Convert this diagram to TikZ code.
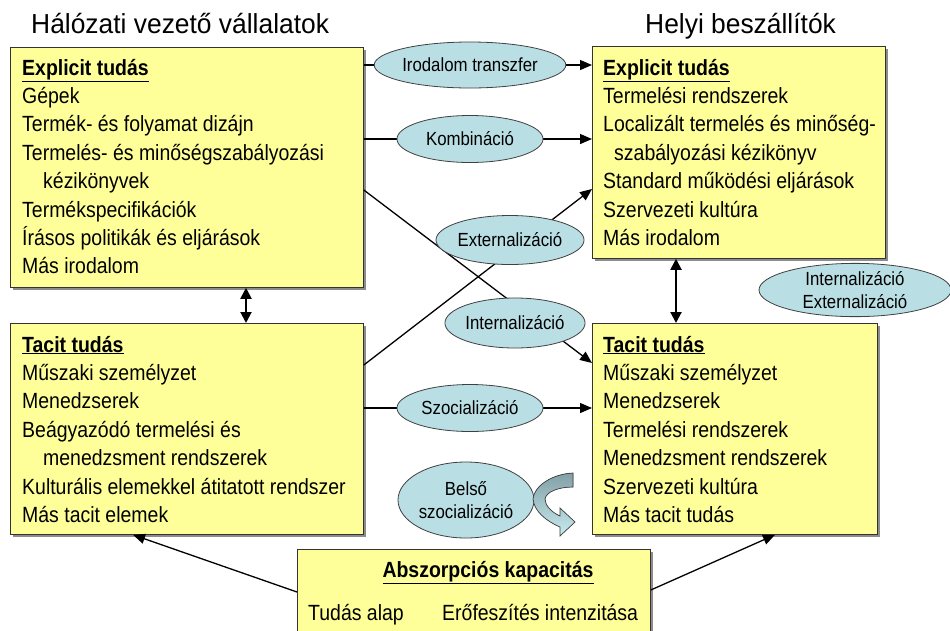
\documentclass[tikz,border=0pt]{standalone}
\usepackage{fontspec}
\setmainfont{Liberation Sans}[FakeStretch=0.885]
\newfontfamily\titlefont{Liberation Sans}[FakeStretch=0.96]
\usetikzlibrary{arrows.meta,shapes.geometric,shadows}
\definecolor{boxyellow}{RGB}{255,255,153}
\definecolor{ellblue}{RGB}{185,222,228}
\definecolor{arrtop}{RGB}{130,160,165}
\definecolor{arrbot}{RGB}{200,235,240}
\newcommand{\boxtext}[1]{\parbox[t]{340pt}{\raggedright\fontsize{22}{28.4}\selectfont #1}}
\newcommand{\hd}[1]{\underline{\textbf{#1}}}
\begin{document}
\begin{tikzpicture}[x=1pt,y=-1pt,
  kbox/.style={draw=black!80, line width=0.8pt, fill=boxyellow, inner sep=0pt, anchor=north west,
    drop shadow={shadow xshift=2.5pt, shadow yshift=-2.5pt, fill=black!45, opacity=1}},
  btxt/.style={anchor=base west, inner sep=0pt},
  ell/.style={ellipse, draw=black!75, fill=ellblue, line width=0.8pt, inner sep=0pt, align=center,
    font=\fontsize{19}{23.5}\selectfont},
  arr/.style={-{Triangle[length=12pt,width=10pt]}, line width=1.3pt},
  dbl/.style={{Triangle[length=11pt,width=11pt]}-{Triangle[length=11pt,width=11pt]}, line width=2pt},
  ttl/.style={anchor=base west, inner sep=0pt, font=\titlefont\fontsize{27.5}{30}\selectfont}
]
\clip (0,0) rectangle (950,630);
\fill[white] (0,0) rectangle (950,630);

% titles
\node[ttl] (T1) at (31,33) {Hálózati vezető vállalatok};
\node[ttl] (T2) at (645,33) {Helyi beszállítók};

% boxes
\node[kbox, minimum width=353pt, minimum height=240pt] (LE) at (10,47) {};
\node[kbox, minimum width=353pt, minimum height=211pt] (LT) at (10,323) {};
\node[kbox, minimum width=293pt, minimum height=212pt] (RE) at (592,46) {};
\node[kbox, minimum width=285pt, minimum height=211pt] (RT) at (592,323) {};
\node[kbox, minimum width=353pt, minimum height=110pt] (AB) at (297,549) {};

% box texts
\node[btxt] (LEt) at (22,75) {\boxtext{\hd{Explicit tudás}\\
Gépek\\
Termék- és folyamat dizájn\\
Termelés- és minőségszabályozási\\
\hspace*{21pt}kézikönyvek\\
Termékspecifikációk\\
Írásos politikák és eljárások\\
Más irodalom}};

\node[btxt] (LTt) at (22,352) {\boxtext{\hd{Tacit tudás}\\
Műszaki személyzet\\
Menedzserek\\
Beágyazódó termelési és\\
\hspace*{21pt}menedzsment rendszerek\\
Kulturális elemekkel átitatott rendszer\\
Más tacit elemek}};

\node[btxt] (REt) at (603,75) {\boxtext{\hd{Explicit tudás}\\
Termelési rendszerek\\
Localizált termelés és minőség-\\
\hspace*{11pt}szabályozási kézikönyv\\
Standard működési eljárások\\
Szervezeti kultúra\\
Más irodalom}};

\node[btxt] (RTt) at (603,352) {\boxtext{\hd{Tacit tudás}\\
Műszaki személyzet\\
Menedzserek\\
Termelési rendszerek\\
Menedzsment rendszerek\\
Szervezeti kultúra\\
Más tacit tudás}};

\node[anchor=base, inner sep=0pt, font=\fontsize{22}{25}\selectfont] (ABh) at (488,577) {\hd{Abszorpciós kapacitás}};
\node[btxt, font=\fontsize{22}{25}\selectfont] (AB1) at (308,620) {Tudás alap};
\node[btxt, font=\fontsize{22}{25}\selectfont] (AB2) at (442,620) {Erőfeszítés intenzitása};

% ellipse centres
\coordinate (cIT) at (470,65);
\coordinate (cKO) at (470,139);
\coordinate (cEX) at (510,240);
\coordinate (cIN) at (515,323);
\coordinate (cSZ) at (470,408);
\coordinate (cBS) at (466,500);
\coordinate (cIE) at (855,290);
\coordinate (yD1) at (0,190);
\coordinate (yD1e) at (0,363);
\coordinate (yD2) at (0,365);
\coordinate (yD2e) at (0,189);
\coordinate (xL) at (246,0);
\coordinate (xR) at (676,0);
\coordinate (yAL) at (0,592);
\coordinate (yAR) at (0,590);
\coordinate (xAL) at (133,0);
\coordinate (xAR) at (775,0);

% connectors
\draw[arr] (LE.east |- cIT) -- (RE.west |- cIT);
\draw[arr] (LE.east |- cKO) -- (RE.west |- cKO);
\draw[arr] (LT.east |- cSZ) -- (RT.west |- cSZ);
\draw[arr] (LE.east |- yD1) -- (RT.west |- yD1e);
\draw[arr] (LT.east |- yD2) -- (RE.west |- yD2e);
\draw[dbl] (LE.south -| xL) -- (LT.north -| xL);
\draw[dbl] (RE.south -| xR) -- (RT.north -| xR);
\draw[arr] (AB.west |- yAL) -- (LT.south -| xAL);
\draw[arr] (AB.east |- yAR) -- (RT.south -| xAR);

% ellipses
\node[ell, minimum width=180pt, minimum height=46pt] (IT) at (cIT) {Irodalom transzfer};
\node[ell, minimum width=146pt, minimum height=47pt] (KO) at (cKO) {Kombináció};
\node[ell, minimum width=144pt, minimum height=49pt] (EX) at (cEX) {Externalizáció};
\node[ell, minimum width=136pt, minimum height=50pt] (IN) at (cIN) {Internalizáció};
\node[ell, minimum width=146pt, minimum height=47pt] (SZ) at (cSZ) {Szocializáció};
\node[ell, minimum width=136pt, minimum height=76pt] (BS) at (cBS) {Belső\\szocializáció};
\node[ell, minimum width=192pt, minimum height=52pt] (IE) at (cIE) {Internalizáció\\Externalizáció};

% curved block arrow
\filldraw[draw=black!75, line width=0.7pt, top color=arrtop, bottom color=arrbot]
  (573,473) .. controls (552,474) and (534,486) .. (533,499)
  .. controls (534,511) and (546,521) .. (560,527)
  -- (560,536) -- (575,522) -- (560,508) -- (560,516)
  .. controls (551,512) and (545,505) .. (545,499)
  .. controls (546,492) and (558,487) .. (573,487) -- cycle;
\end{tikzpicture}
\end{document}
